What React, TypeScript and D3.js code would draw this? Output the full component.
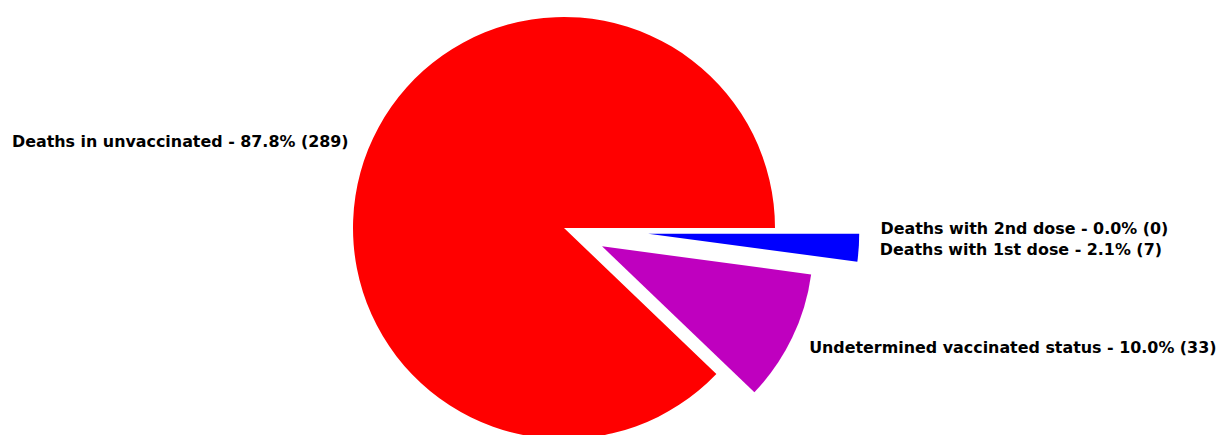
import React from "react";
import * as d3 from "d3";

const categories = [
  "Deaths in unvaccinated",
  "Undetermined vaccinated status",
  "Deaths with 1st dose",
  "Deaths with 2nd dose",
];
const values = [289, 33, 7, 0];
const colors = ["#ff0000", "#bf00bf", "#0000ff", "#00bf00"];
const explode = [0, 0.2, 0.4, 0.4];

const W = 1218;
const H = 435;
const CX = 564;
const CY = 228;
const R = 211;

export default function App() {
  const total = d3.sum(values);
  const pie = d3
    .pie<number>()
    .sort(null)
    .sortValues(null)
    .startAngle(Math.PI / 2)
    .endAngle(Math.PI / 2 - 2 * Math.PI);
  const arcs = pie(values);
  const arcGen = d3.arc<any>().innerRadius(0).outerRadius(R);

  return (
    <svg
      width={W}
      height={H}
      style={{ position: "absolute", left: 0, top: 0, background: "#fff" }}
    >
      {arcs.map((a, i) => {
        const mid = (a.startAngle + a.endAngle) / 2;
        const dx = Math.sin(mid) * explode[i] * R;
        const dy = -Math.cos(mid) * explode[i] * R;
        const lr = (1.1 + explode[i]) * R;
        const lx = CX + Math.sin(mid) * lr;
        const ly = CY - Math.cos(mid) * lr;
        const pct = (values[i] / total) * 100;
        const label = `${categories[i]} - ${pct.toFixed(1)}% (${values[i]})`;
        return (
          <g key={i}>
            {values[i] > 0 && (
              <path
                d={arcGen(a) || ""}
                transform={`translate(${CX + dx},${CY + dy})`}
                fill={colors[i]}
              />
            )}
            <text
              x={i === 1 ? lx - 2 : lx}
              y={ly}
              textAnchor={Math.sin(mid) >= 0 ? "start" : "end"}
              dominantBaseline="central"
              fontFamily="DejaVu Sans"
              fontWeight="bold"
              fontSize={15.9}
              fill="#000"
            >
              {label}
            </text>
          </g>
        );
      })}
    </svg>
  );
}
